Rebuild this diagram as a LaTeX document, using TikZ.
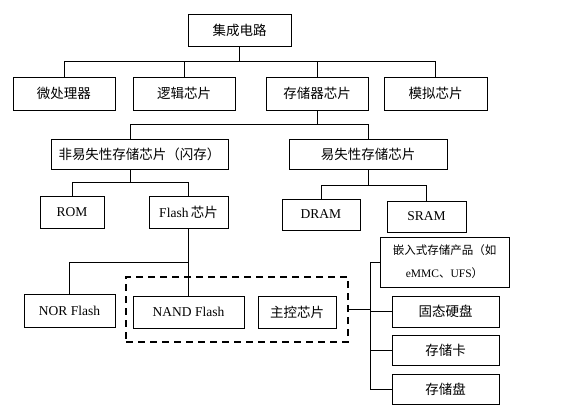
\documentclass[tikz,border=0pt]{standalone}
\usepackage{fontspec}
\setmainfont{Liberation Serif}
\newfontfamily\cjk{Noto Sans CJK SC}
\begin{document}
\begin{tikzpicture}[x=1pt,y=-1pt,
  box/.style={draw, line width=0.9pt, inner sep=0pt, font=\fontsize{13.5}{16}\selectfont},
  wh/.style 2 args={minimum width=#1pt, minimum height=#2pt},
  conn/.style={line width=0.9pt},
  dashbox/.style={draw, line width=1.8pt, dash pattern=on 7pt off 5pt, inner sep=0pt}]
\useasboundingbox (0,0) rectangle (566,416);
% level 0/1
\node[box, wh={103}{32}] (jc) at (239.5,30) {\cjk 集成电路};
\node[box, wh={102}{33}] (wcl) at (64,93.5) {\cjk 微处理器};
\node[box, wh={102}{33}] (lj) at (184,93.5) {\cjk 逻辑芯片};
\node[box, wh={102}{33}] (ccq) at (317,93.5) {\cjk 存储器芯片};
\node[box, wh={103}{33}] (mn) at (435.5,93.5) {\cjk 模拟芯片};
% level 2
\node[box, wh={177}{30}] (fys) at (139.5,154) {\cjk 非易失性存储芯片（闪存）};
\node[box, wh={158}{30}] (ysx) at (368,154) {\cjk 易失性存储芯片};
% level 3
\node[box, wh={64}{32}] (rom) at (72,212) {ROM};
\node[box, wh={79}{32}] (fl) at (188.5,212) {Flash\,{\cjk 芯片}};
\node[box, wh={78}{31}] (dram) at (321,214.5) {DRAM};
\node[box, wh={79}{31}] (sram) at (426.5,216.5) {SRAM};
% level 4
\node[box, wh={91}{33}] (nor) at (69.5,310.5) {NOR Flash};
\node[box, wh={111}{32}] (nand) at (188.5,312) {NAND Flash};
\node[box, wh={78}{32}] (zk) at (297,312) {\cjk 主控芯片};
\node[dashbox, minimum width=222pt, minimum height=65pt] (db) at (237,309.5) {};
% products
\node[box, wh={129}{50}, align=center, font=\fontsize{11.5}{23}\selectfont] (qr) at (444.5,262)
  {{\cjk 嵌入式存储产品（如}\\eMMC{\cjk 、}UFS{\cjk ）}};
\node[box, wh={107}{31}] (gt) at (445.5,311.5) {\cjk 固态硬盘};
\node[box, wh={107}{30}] (ck) at (445.5,350) {\cjk 存储卡};
\node[box, wh={107}{30}] (cp) at (445.5,389) {\cjk 存储盘};
% bus levels
\coordinate (L1) at (0,61);
\coordinate (L2) at (0,124);
\coordinate (L3) at (0,182);
\coordinate (L3b) at (0,185);
\coordinate (L4) at (0,262);
\coordinate (V5) at (370,0);
\coordinate (FX) at (130,0);
% connectors
\draw[conn] (jc.south) -- (jc.south |- L1);
\draw[conn] (wcl.north) |- (mn.north |- L1) -- (mn.north);
\draw[conn] (lj.north) -- (lj.north |- L1);
\draw[conn] (ccq.north) -- (ccq.north |- L1);
\draw[conn] (ccq.south) -- (ccq.south |- L2);
\draw[conn] (fys.north -| FX) |- (ysx.north |- L2) -- (ysx.north);
\draw[conn] (fys.south -| FX) -- (FX |- L3);
\draw[conn] (rom.north) |- (fl.north |- L3) -- (fl.north);
\draw[conn] (ysx.south) -- (ysx.south |- L3b);
\draw[conn] (dram.north) |- (sram.north |- L3b) -- (sram.north);
\draw[conn] (fl.south) -- (nand.north);
\draw[conn] (nor.north) |- (fl.south |- L4);
\draw[conn] (db.east) -- (db.east -| V5);
\draw[conn] (qr.west) -- (qr.west -| V5) -- (V5 |- cp.west) -- (cp.west);
\draw[conn] (gt.west) -- (gt.west -| V5);
\draw[conn] (ck.west) -- (ck.west -| V5);
\end{tikzpicture}
\end{document}
